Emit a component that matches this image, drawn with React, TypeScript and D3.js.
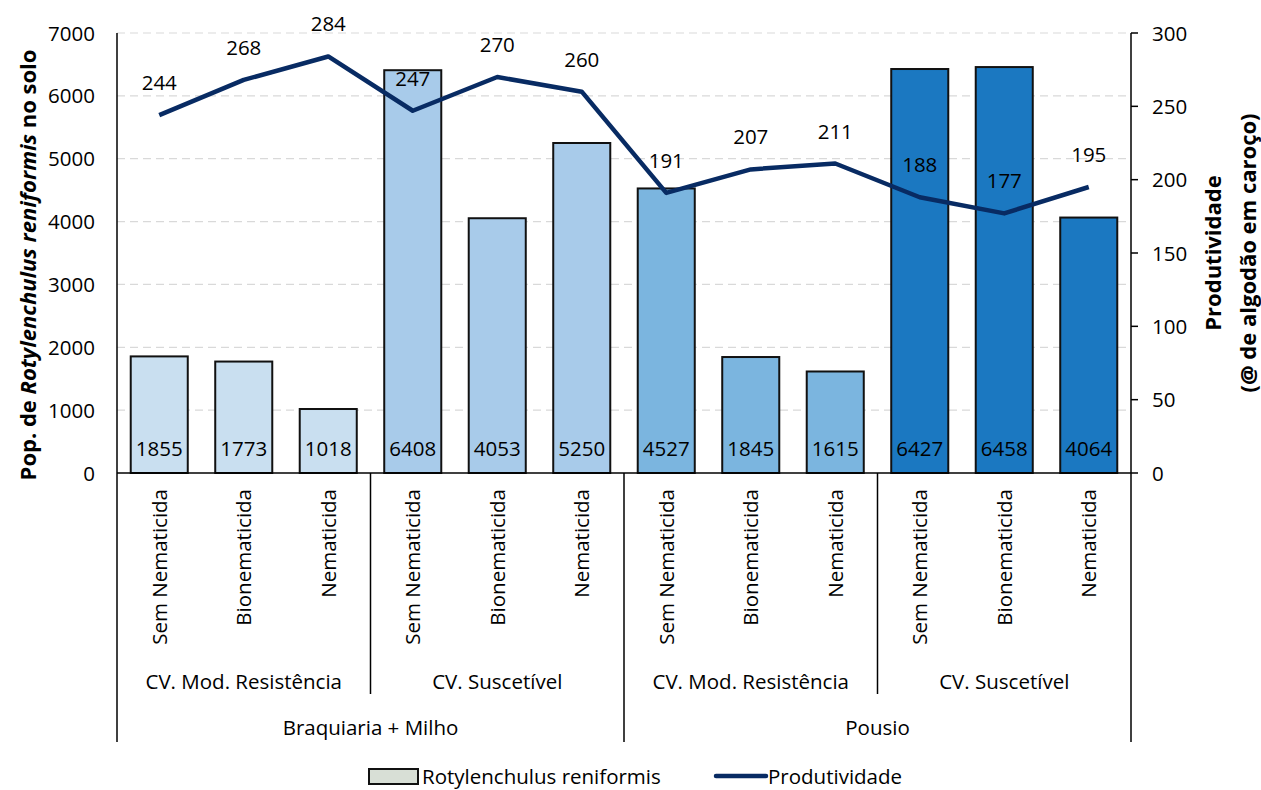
import React from 'react';
import * as d3 from 'd3';

// dados
const cultivos = ['Braquiaria + Milho', 'Pousio'];
const cultivares = ['CV. Mod. Resistência', 'CV. Suscetível'];
const tratamentos = ['Sem Nematicida', 'Bionematicida', 'Nematicida'];
const populacao = [1855, 1773, 1018, 6408, 4053, 5250, 4527, 1845, 1615, 6427, 6458, 4064];
const produtividade = [244, 268, 284, 247, 270, 260, 191, 207, 211, 188, 177, 195];
const ticksEsq = [0, 1000, 2000, 3000, 4000, 5000, 6000, 7000];
const ticksDir = [0, 50, 100, 150, 200, 250, 300];
const coresGrupo = ['#c9dff0', '#a8cbea', '#7bb5df', '#1b78c1'];

const W = 1261;
const H = 790;
const X0 = 117;
const X1 = 1131;
const Y0 = 473;
const Y1 = 33;
const FONT = '"Open Sans", sans-serif';
const FS = 20.5;
const LINE_COLOR = '#082b63';

export default function App() {
  const idx = populacao.map((_, i) => i);
  const x = d3.scaleBand<number>().domain(idx).range([X0, X1]).paddingInner(0.325).paddingOuter(0.1625);
  const step = x.step();
  const yL = d3.scaleLinear().domain([0, 7000]).range([Y0, Y1]);
  const yR = d3.scaleLinear().domain([0, 300]).range([Y0, Y1]);
  const cx = (i: number) => (x(i) as number) + x.bandwidth() / 2;

  const linePath = d3.line<number>()
    .x((_, i) => cx(i))
    .y(d => yR(d))(produtividade) as string;

  // grupos de 3 barras (cultivar) e de 6 barras (cultivo)
  const nSub = cultivos.length * cultivares.length;
  const subBounds = d3.range(nSub + 1).map(k => X0 + k * 3 * step);
  const grpBounds = d3.range(cultivos.length + 1).map(k => X0 + k * 6 * step);

  return (
    <svg width={W} height={H} style={{ position: 'absolute', left: 0, top: 0, background: '#fff' }}
      fontFamily={FONT}>
      {/* grade */}
      {ticksEsq.slice(1).map(t => (
        <line key={t} x1={X0} x2={X1} y1={yL(t)} y2={yL(t)} stroke="#d9d9d9" strokeWidth={1.2} strokeDasharray="8,5" />
      ))}

      {/* barras */}
      {populacao.map((v, i) => (
        <rect key={i} x={x(i)} y={yL(v)} width={x.bandwidth()} height={Y0 - yL(v)}
          fill={coresGrupo[Math.floor(i / 3)]} stroke="#111" strokeWidth={2} />
      ))}
      {populacao.map((v, i) => (
        <text key={i} x={cx(i)} y={456} textAnchor="middle" fontSize={FS} fill="#000">{v}</text>
      ))}

      {/* linha de produtividade */}
      <path d={linePath} fill="none" stroke={LINE_COLOR} strokeWidth={4.5} strokeLinejoin="round" />
      {produtividade.map((v, i) => (
        <text key={i} x={cx(i)} y={yR(v) - 25} textAnchor="middle" fontSize={FS} fill="#000">{v}</text>
      ))}

      {/* eixos */}
      <line x1={X0} x2={X1} y1={Y0} y2={Y0} stroke="#000" strokeWidth={1.5} />
      <line x1={X0} x2={X0} y1={Y1} y2={742} stroke="#000" strokeWidth={1.5} />
      <line x1={X1} x2={X1} y1={Y1} y2={742} stroke="#000" strokeWidth={1.5} />
      {ticksEsq.map(t => (
        <text key={t} x={95} y={yL(t) + 7.5} textAnchor="end" fontSize={FS}>{t}</text>
      ))}
      {ticksDir.map(t => (
        <g key={t}>
          <line x1={X1} x2={X1 + 7} y1={yR(t)} y2={yR(t)} stroke="#000" strokeWidth={1.5} />
          <text x={1152} y={yR(t) + 7.5} textAnchor="start" fontSize={FS}>{t}</text>
        </g>
      ))}

      {/* categorias */}
      {populacao.map((_, i) => (
        <text key={i} transform={`translate(${cx(i) + 7.5},489) rotate(-90)`} textAnchor="end" fontSize={FS}>
          {tratamentos[i % 3]}
        </text>
      ))}
      {subBounds.slice(1, -1).map((b, k) => (
        <line key={k} x1={b} x2={b} y1={Y0} y2={k % 2 === 1 ? 742 : 694} stroke="#000" strokeWidth={1.5} />
      ))}
      {d3.range(nSub).map(k => (
        <text key={k} x={(subBounds[k] + subBounds[k + 1]) / 2} y={689} textAnchor="middle" fontSize={FS}>
          {cultivares[k % 2]}
        </text>
      ))}
      {cultivos.map((c, k) => (
        <text key={c} x={(grpBounds[k] + grpBounds[k + 1]) / 2} y={735} textAnchor="middle" fontSize={FS}>{c}</text>
      ))}

      {/* títulos dos eixos */}
      <text transform={`translate(36,265) rotate(-90)`} textAnchor="middle" fontSize={22} fontWeight="bold">
        Pop. de <tspan fontStyle="italic">Rotylenchulus reniformis</tspan> no solo
      </text>
      <text transform={`translate(1221,253) rotate(-90)`} textAnchor="middle" fontSize={22} fontWeight="bold">
        Produtividade
      </text>
      <text transform={`translate(1256,253) rotate(-90)`} textAnchor="middle" fontSize={22} fontWeight="bold">
        (@ de algodão em caroço)
      </text>

      {/* legenda */}
      <rect x={369} y={769} width={49} height={15} fill="#d8dfd6" stroke="#111" strokeWidth={2} />
      <text x={422} y={784} fontSize={FS}>Rotylenchulus reniformis</text>
      <line x1={716} x2={766} y1={776} y2={776} stroke={LINE_COLOR} strokeWidth={4.5} strokeLinecap="round" />
      <text x={768} y={784} fontSize={FS}>Produtividade</text>
    </svg>
  );
}
